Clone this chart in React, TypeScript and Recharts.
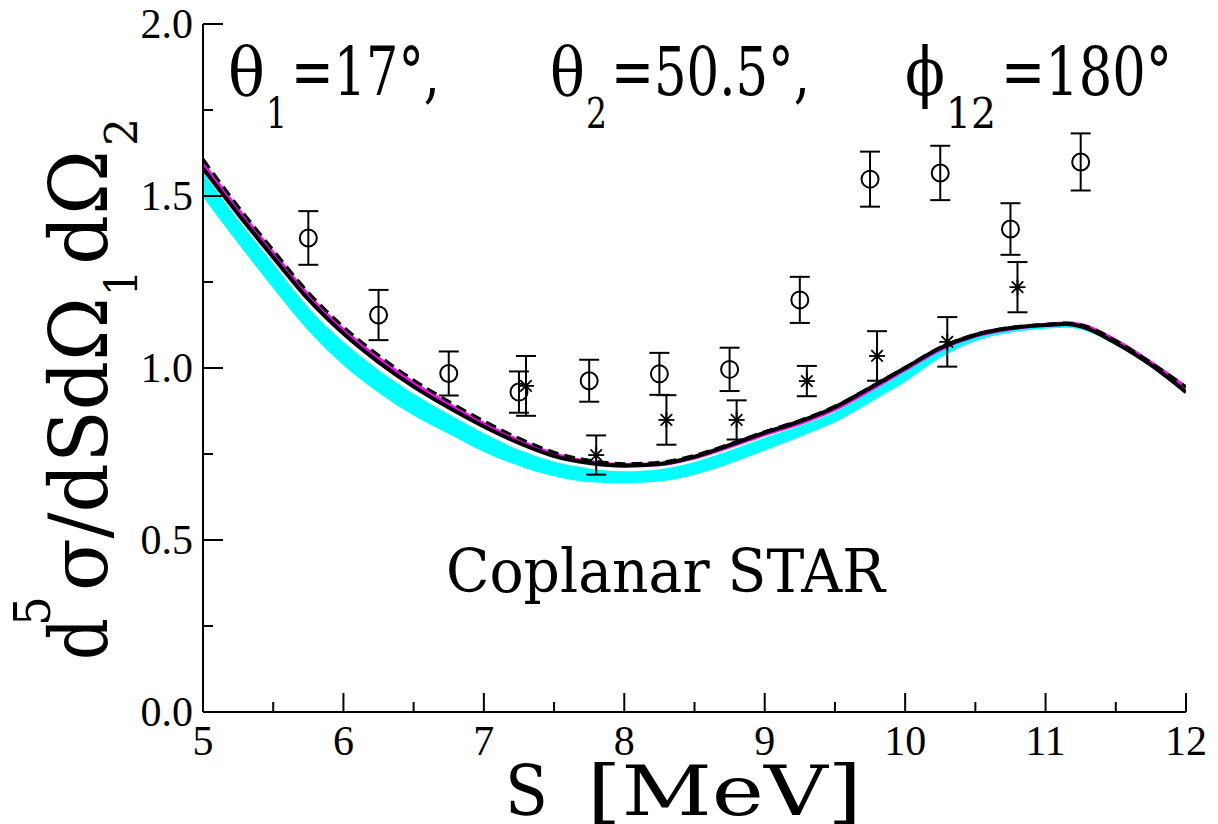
import React from 'react';
import { ComposedChart, XAxis, YAxis, Line, Area, Scatter, ErrorBar, Customized } from 'recharts';

const FONT = 'Liberation Serif';
const FONT2 = 'DejaVu Serif';

// theory curves
const S_GRID = [5.0, 5.25, 5.5, 5.75, 6.0, 6.25, 6.5, 6.75, 7.0, 7.25, 7.5, 7.75, 8.0, 8.25, 8.5, 8.75, 9.0, 9.25, 9.5, 9.75, 10.0, 10.25, 10.5, 10.75, 11.0, 11.15, 11.25, 11.5, 11.75, 12.0];
const SOLID = [1.580, 1.448, 1.322, 1.200, 1.100, 1.017, 0.946, 0.885, 0.830, 0.782, 0.744, 0.724, 0.716, 0.721, 0.742, 0.776, 0.812, 0.845, 0.886, 0.942, 1.000, 1.058, 1.096, 1.116, 1.125, 1.128, 1.121, 1.073, 1.009, 0.930];
const DASHED = [1.607, 1.470, 1.343, 1.220, 1.120, 1.037, 0.965, 0.903, 0.846, 0.796, 0.755, 0.732, 0.722, 0.726, 0.746, 0.779, 0.815, 0.848, 0.889, 0.944, 1.002, 1.060, 1.098, 1.118, 1.127, 1.131, 1.126, 1.080, 1.016, 0.945];
const MAGENTA = [1.593, 1.459, 1.333, 1.210, 1.110, 1.027, 0.955, 0.893, 0.837, 0.788, 0.749, 0.727, 0.718, 0.720, 0.740, 0.772, 0.808, 0.840, 0.881, 0.937, 0.996, 1.055, 1.094, 1.115, 1.125, 1.129, 1.125, 1.079, 1.015, 0.943];
const BAND_LOW = [1.497, 1.362, 1.232, 1.108, 1.008, 0.928, 0.862, 0.808, 0.756, 0.715, 0.685, 0.668, 0.665, 0.670, 0.690, 0.722, 0.760, 0.800, 0.842, 0.900, 0.960, 1.030, 1.078, 1.103, 1.114, 1.117, 1.112, 1.066, 1.002, 0.925];
const BAND_HIGH = [1.570, 1.432, 1.304, 1.176, 1.076, 0.994, 0.925, 0.866, 0.810, 0.762, 0.728, 0.708, 0.700, 0.706, 0.727, 0.760, 0.797, 0.832, 0.873, 0.930, 0.990, 1.050, 1.092, 1.112, 1.122, 1.125, 1.118, 1.071, 1.008, 0.935];

// data: circles
const CIRCLE_X = [5.75, 6.25, 6.75, 7.25, 7.75, 8.25, 8.75, 9.25, 9.75, 10.25, 10.75, 11.25];
const CIRCLE_Y = [1.378, 1.154, 0.984, 0.930, 0.963, 0.983, 0.996, 1.198, 1.549, 1.567, 1.404, 1.599];
const CIRCLE_ERR = [0.078, 0.073, 0.064, 0.060, 0.061, 0.061, 0.063, 0.067, 0.080, 0.079, 0.075, 0.083];

// data: stars
const STAR_X = [7.3, 7.8, 8.3, 8.8, 9.3, 9.8, 10.3, 10.8];
const STAR_Y = [0.948, 0.747, 0.849, 0.849, 0.962, 1.035, 1.076, 1.235];
const STAR_ERR = [0.087, 0.057, 0.072, 0.057, 0.044, 0.072, 0.072, 0.073];

// ticks
const X_TICKS = [5, 5.5, 6, 6.5, 7, 7.5, 8, 8.5, 9, 9.5, 10, 10.5, 11, 11.5, 12];
const Y_TICKS = [0, 0.25, 0.5, 0.75, 1.0, 1.25, 1.5, 1.75, 2.0];

const curveData = S_GRID.map((x, i) => ({
  x,
  solid: SOLID[i],
  dashed: DASHED[i],
  magenta: MAGENTA[i],
  band: [BAND_LOW[i], BAND_HIGH[i]],
}));
const circleData = CIRCLE_X.map((x, i) => ({ x, y: CIRCLE_Y[i], err: CIRCLE_ERR[i] }));
const starData = STAR_X.map((x, i) => ({ x, y: STAR_Y[i], err: STAR_ERR[i] }));

const W = 1210;
const H = 816;
const MARGIN = { top: 16, right: 32, bottom: 52, left: 95 };

const isMajor = (v: number, step: number) => Math.abs(v / step - Math.round(v / step)) < 1e-6;

const BottomTick = (props: any) => {
  const { x, y, payload } = props;
  const v = payload.value;
  const major = isMajor(v, 1);
  return (
    <g>
      <line x1={x} x2={x} y1={y} y2={y - (major ? 19 : 10)} stroke="#000" strokeWidth={2} />
      {major && (
        <text x={x} y={y + 43} textAnchor="middle" fontFamily={FONT} fill="#000" fontSize={42}>
          {String(v)}
        </text>
      )}
    </g>
  );
};

const TopTick = (props: any) => {
  const { x, y, payload } = props;
  const major = isMajor(payload.value, 1);
  return <line x1={x} x2={x} y1={y} y2={y + (major ? 19 : 10)} stroke="#000" strokeWidth={2} />;
};

const LeftTick = (props: any) => {
  const { x, y, payload } = props;
  const v = payload.value;
  const major = isMajor(v, 0.5);
  return (
    <g>
      <line x1={x} x2={x + (major ? 20 : 10)} y1={y} y2={y} stroke="#000" strokeWidth={2} />
      {major && (
        <text x={x - 10} y={y + 14} textAnchor="end" fontFamily={FONT} fill="#000" fontSize={42}>
          {v.toFixed(1)}
        </text>
      )}
    </g>
  );
};

const RightTick = (props: any) => {
  const { x, y, payload } = props;
  const major = isMajor(payload.value, 0.5);
  return <line x1={x} x2={x - (major ? 20 : 10)} y1={y} y2={y} stroke="#000" strokeWidth={2} />;
};

const CircleShape = (props: any) => {
  const { cx, cy } = props;
  return <circle cx={cx} cy={cy} r={8.5} fill="none" stroke="#000" strokeWidth={2} />;
};

const StarShape = (props: any) => {
  const { cx, cy } = props;
  const r = 8;
  const d = r * 0.72;
  return (
    <g stroke="#000" strokeWidth={1.8}>
      <line x1={cx - r} y1={cy} x2={cx + r} y2={cy} />
      <line x1={cx} y1={cy - r} x2={cx} y2={cy + r} />
      <line x1={cx - d} y1={cy - d} x2={cx + d} y2={cy + d} />
      <line x1={cx - d} y1={cy + d} x2={cx + d} y2={cy - d} />
    </g>
  );
};

// page coordinates minus body margin (8px)
const o = 8;

const T = (p: any) => <text fontFamily={FONT2} fill="#000" lengthAdjust="spacingAndGlyphs" {...p} />;

const Annotations = () => (
  <g className="annotations">
    {/* top annotation */}
    <T x={228 - o} y={95 - o} fontSize={68} textLength={37}>θ</T>
    <T x={266 - o} y={128 - o} fontSize={42} textLength={21}>1</T>
    <T x={291 - o} y={95 - o} fontSize={68} textLength={149}>=17°,</T>

    <T x={550 - o} y={95 - o} fontSize={68} textLength={35}>θ</T>
    <T x={586 - o} y={128 - o} fontSize={42} textLength={21}>2</T>
    <T x={611 - o} y={95 - o} fontSize={68} textLength={199}>=50.5°,</T>

    <T x={905 - o} y={95 - o} fontSize={68} textLength={40}>ϕ</T>
    <T x={946 - o} y={128 - o} fontSize={42} textLength={50}>12</T>
    <T x={1001 - o} y={95 - o} fontSize={68} textLength={171}>=180°</T>

    {/* Coplanar STAR */}
    <T x={446 - o} y={592 - o} fontSize={60} textLength={439}>Coplanar STAR</T>

    {/* x axis title */}
    <T x={505 - o} y={815 - o} fontSize={70} textLength={43}>S</T>
    <T x={587 - o} y={815 - o} fontSize={70} textLength={275}>[MeV]</T>

    {/* y axis title */}
    <g transform={`translate(${107 - o},${660 - o}) rotate(-90)`}>
      <T x={0} y={0} fontSize={80} textLength={42}>d</T>
      <T x={34} y={-57} fontSize={50} textLength={30}>5</T>
      <T x={69} y={0} fontSize={80} textLength={294}>σ/dSdΩ</T>
      <T x={364} y={30} fontSize={44} textLength={26}>1</T>
      <T x={395} y={0} fontSize={80} textLength={115}>dΩ</T>
      <T x={514} y={30} fontSize={44} textLength={28}>2</T>
    </g>
  </g>
);

export default function App() {
  return (
    <div style={{ width: W, height: H, background: '#fff' }}>
      <ComposedChart width={W} height={H} data={curveData} margin={MARGIN}>
        <XAxis
          dataKey="x"
          type="number"
          domain={[5, 12]}
          ticks={X_TICKS}
          interval={0}
          height={60}
          tickSize={0}
          tickMargin={0}
          tick={BottomTick}
          axisLine={{ stroke: '#000', strokeWidth: 2 }}
          allowDataOverflow
        />
        <XAxis
          xAxisId="top"
          orientation="top"
          dataKey="x"
          type="number"
          domain={[5, 12]}
          ticks={X_TICKS}
          interval={0}
          height={0}
          tickSize={0}
          tickMargin={0}
          tick={TopTick}
          axisLine={{ stroke: '#000', strokeWidth: 2 }}
          allowDataOverflow
        />
        <YAxis
          type="number"
          domain={[0, 2]}
          ticks={Y_TICKS}
          interval={0}
          width={100}
          tickSize={0}
          tickMargin={0}
          tick={LeftTick}
          axisLine={{ stroke: '#000', strokeWidth: 2 }}
          allowDataOverflow
        />
        <YAxis
          yAxisId="right"
          orientation="right"
          type="number"
          domain={[0, 2]}
          ticks={Y_TICKS}
          interval={0}
          width={0}
          tickSize={0}
          tickMargin={0}
          tick={RightTick}
          axisLine={{ stroke: '#000', strokeWidth: 2 }}
          allowDataOverflow
        />
        <Area
          dataKey="band"
          type="monotone"
          fill="#00ffff"
          fillOpacity={1}
          stroke="none"
          isAnimationActive={false}
        />
        <Line dataKey="magenta" type="monotone" stroke="#ff00ff" strokeWidth={4} dot={false} isAnimationActive={false} />
        <Line dataKey="solid" type="monotone" stroke="#000" strokeWidth={4} dot={false} isAnimationActive={false} />
        <Line dataKey="dashed" type="monotone" stroke="#000" strokeWidth={3} strokeDasharray="11 6" dot={false} isAnimationActive={false} />
        <Line
          xAxisId="top"
          yAxisId="right"
          dataKey="solid"
          stroke="none"
          dot={false}
          legendType="none"
          isAnimationActive={false}
        />
        <Scatter data={circleData} dataKey="y" shape={CircleShape} isAnimationActive={false}>
          <ErrorBar dataKey="err" direction="y" width={10} stroke="#000" strokeWidth={2} />
        </Scatter>
        <Scatter data={starData} dataKey="y" shape={StarShape} isAnimationActive={false}>
          <ErrorBar dataKey="err" direction="y" width={10} stroke="#000" strokeWidth={2} />
        </Scatter>
        <Customized component={Annotations} />
      </ComposedChart>
    </div>
  );
}
